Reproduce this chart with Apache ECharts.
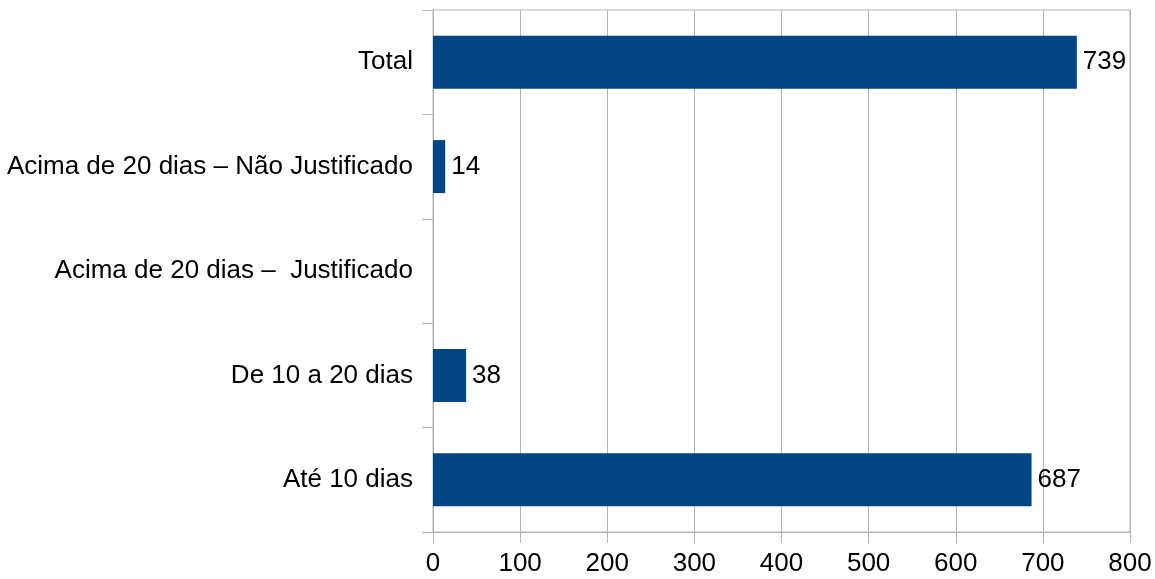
<!DOCTYPE html>
<html>
<head>
<meta charset="utf-8">
<script src="https://cdn.jsdelivr.net/npm/echarts@6/dist/echarts.min.js"></script>
<style>
html,body{margin:0;padding:0;background:#fff;}
#chart{width:1155px;height:579px;}
</style>
</head>
<body>
<div id="chart"></div>
<script>
const categories = ['Até 10 dias', 'De 10 a 20 dias', 'Acima de 20 dias –  Justificado', 'Acima de 20 dias – Não Justificado', 'Total'];
const values = [687, 38, null, 14, 739];
const xTicks = { min: 0, max: 800, interval: 100 };

const chart = echarts.init(document.getElementById('chart'));
chart.setOption({
  animation: false,
  textStyle: { fontFamily: 'Liberation Sans, Arial, sans-serif' },
  grid: { left: 433, right: 25, top: 10, bottom: 47, show: true, borderColor: '#b3b3b3', borderWidth: 1, containLabel: false },
  xAxis: {
    type: 'value', min: xTicks.min, max: xTicks.max, interval: xTicks.interval,
    axisLine: { show: true, lineStyle: { color: '#b3b3b3' } },
    axisTick: { show: true, length: 11, lineStyle: { color: '#b3b3b3' } },
    axisLabel: { color: '#000', fontSize: 26, margin: 19 },
    splitLine: { show: true, lineStyle: { color: '#b3b3b3' } }
  },
  yAxis: {
    type: 'category', data: categories,
    axisLine: { show: true, lineStyle: { color: '#b3b3b3' } },
    axisTick: { show: true, length: 11, lineStyle: { color: '#b3b3b3' } },
    axisLabel: { color: '#000', fontSize: 26, margin: 20 },
    splitLine: { show: false }
  },
  series: [{
    type: 'bar', data: values, barWidth: 53,
    itemStyle: { color: '#004586' },
    label: { show: true, position: 'right', distance: 6, color: '#000', fontSize: 26 }
  }]
});
</script>
</body>
</html>
